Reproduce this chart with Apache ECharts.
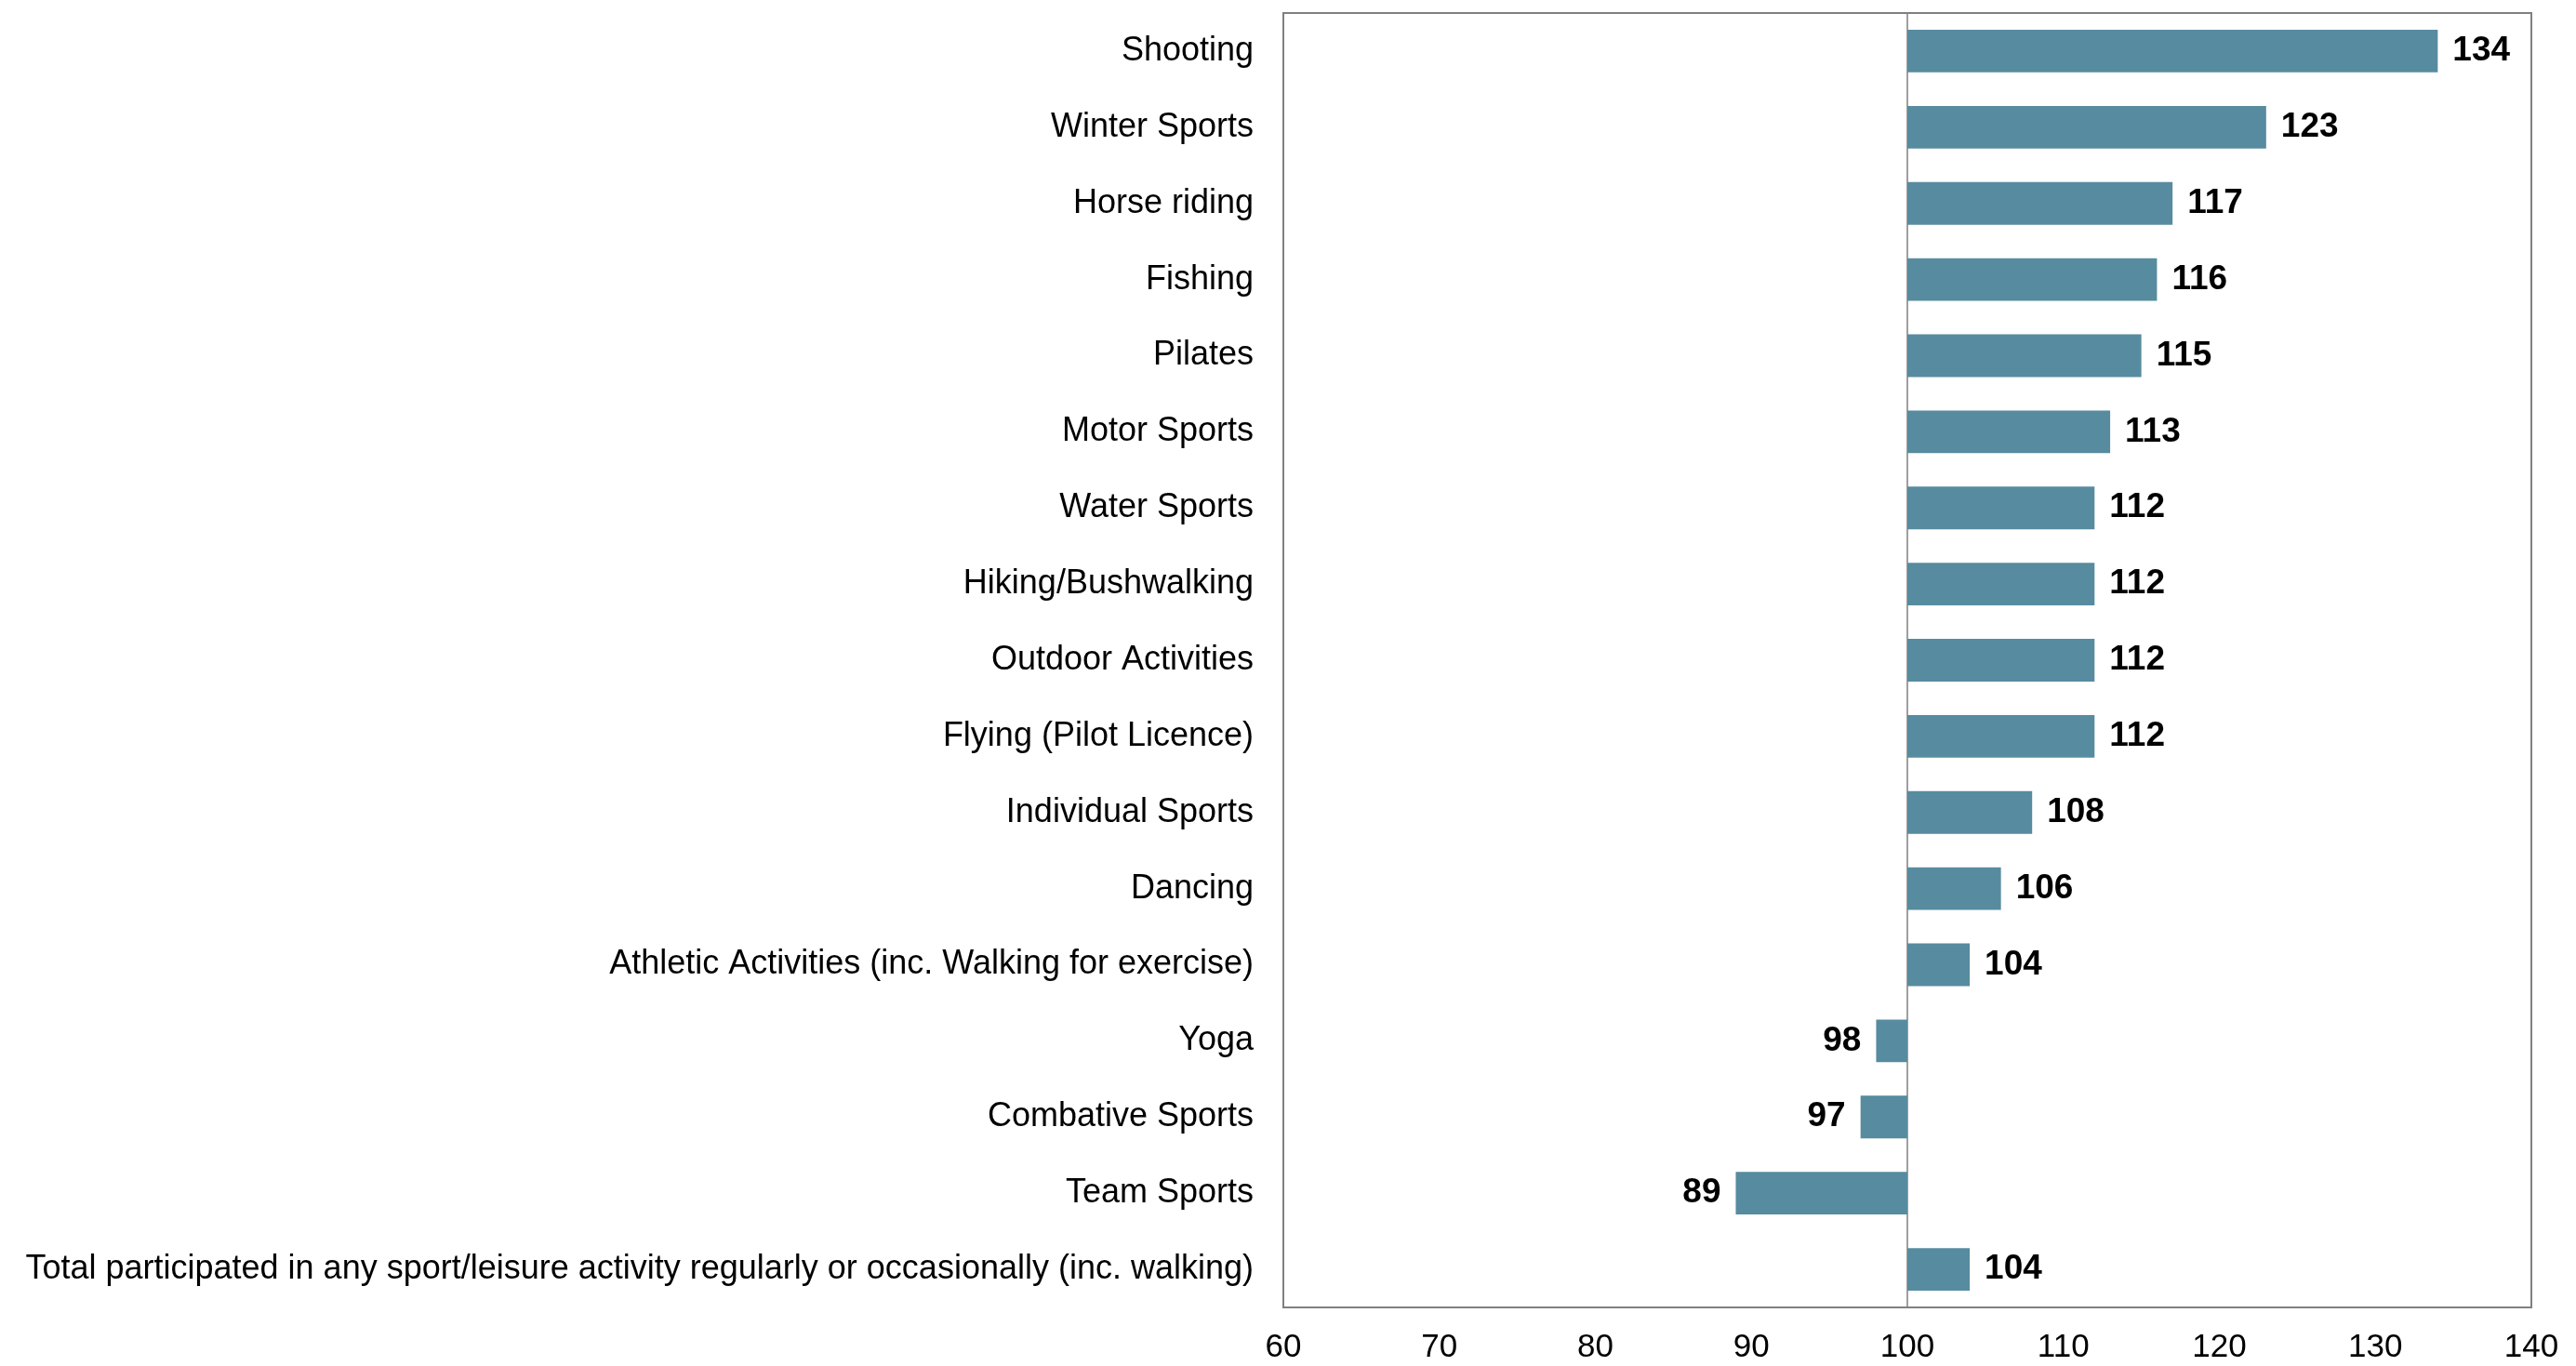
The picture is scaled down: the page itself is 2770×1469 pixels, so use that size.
<!DOCTYPE html>
<html>
<head>
<meta charset="utf-8">
<script src="https://cdn.jsdelivr.net/npm/echarts@6/dist/echarts.min.js"></script>
<style>
	html, body { margin: 0; padding: 0; background: #fff; }
	#chart { width: 2770px; height: 1469px; }
</style>
</head>
<body>
<div id="chart"></div>
<script>
// categories top to bottom, values are index (100 = average)
var activities = [
	'Shooting',
	'Winter Sports',
	'Horse riding',
	'Fishing',
	'Pilates',
	'Motor Sports',
	'Water Sports',
	'Hiking/Bushwalking',
	'Outdoor Activities',
	'Flying (Pilot Licence)',
	'Individual Sports',
	'Dancing',
	'Athletic Activities (inc. Walking for exercise)',
	'Yoga',
	'Combative Sports',
	'Team Sports',
	'Total participated in any sport/leisure activity regularly or occasionally (inc. walking)'
];
var indexValues = [134, 123, 117, 116, 115, 113, 112, 112, 112, 112, 108, 106, 104, 98, 97, 89, 104];
var baseValue = 100;
var tickMin = 60, tickMax = 140, tickStep = 10;

var fontName = '"Liberation Sans", Arial, sans-serif';

// bars grow from 100, so plot the offset and label with the real value
var barData = indexValues.map(function(v) {
	return {
		value: v - baseValue,
		label: { position: v < baseValue ? 'left' : 'right' }
	};
});

var chart = echarts.init(document.getElementById('chart'));
chart.setOption({
	animation: false,
	backgroundColor: '#ffffff',
	grid: {
		left: 1380,
		right: 48,
		top: 14,
		bottom: 63,
		show: true,
		borderColor: '#808080',
		borderWidth: 2,
		backgroundColor: 'transparent'
	},
	xAxis: {
		type: 'value',
		min: tickMin - baseValue,
		max: tickMax - baseValue,
		interval: tickStep,
		splitLine: { show: false },
		axisLine: { show: false },
		axisTick: { show: false },
		axisLabel: {
			color: '#000',
			fontFamily: fontName,
			fontSize: 35,
			margin: 26,
			formatter: function(v) { return v + baseValue; }
		}
	},
	yAxis: {
		type: 'category',
		inverse: true,
		data: activities,
		axisLine: { show: true, lineStyle: { color: '#7f7f7f', width: 1.5 } },
		axisTick: { show: false },
		axisLabel: {
			color: '#000',
			fontFamily: fontName,
			fontSize: 36,
			margin: 32
		}
	},
	series: [{
		type: 'bar',
		data: barData,
		barCategoryGap: '44%',
		itemStyle: { color: '#578b9f' },
		label: {
			show: true,
			distance: 16,
			color: '#000',
			fontFamily: fontName,
			fontSize: 37,
			fontWeight: 'bold',
			formatter: function(p) { return p.value + baseValue; }
		}
	}]
});
</script>
</body>
</html>
